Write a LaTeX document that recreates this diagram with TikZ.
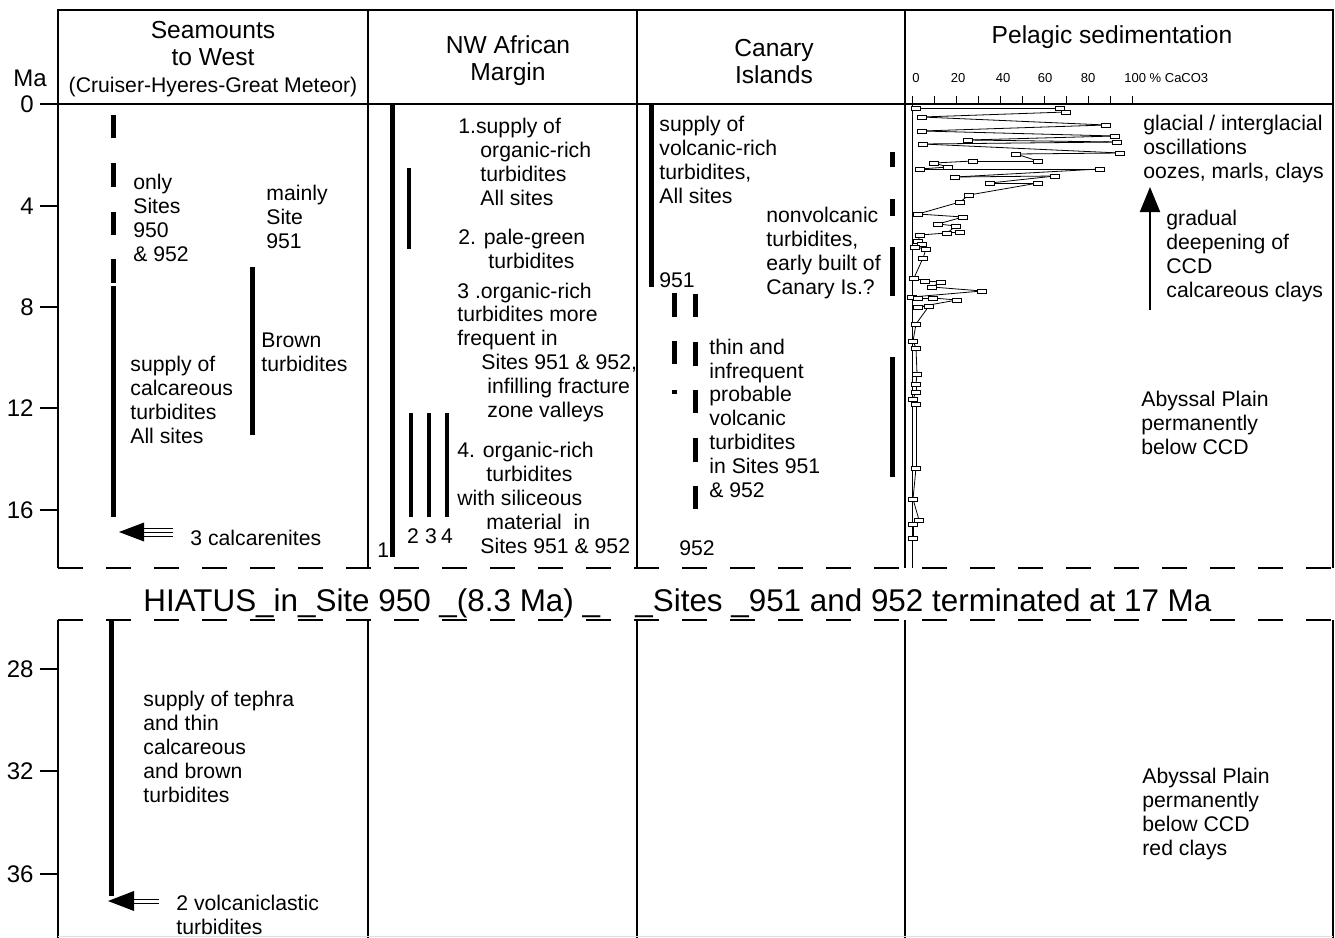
\documentclass[tikz,border=0pt]{standalone}
\usepackage{fontspec}
\setmainfont{Liberation Sans}
\usetikzlibrary{arrows.meta}

\tikzset{
  frame/.style={line width=1pt},
  cut/.style={line width=1pt, dash pattern=on 12.5pt off 11.5pt},
  tick/.style={line width=0.7pt},
  bar/.style={line width=2.5pt},
  slim/.style={line width=2pt},
  hair/.style={line width=0.5pt},
  txt/.style={anchor=base west, align=left, inner sep=0pt, font=\fontsize{10.6}{11.9}\selectfont},
  hdr/.style={anchor=base, align=center, inner sep=0pt, font=\fontsize{12.3}{13.5}\selectfont},
  age/.style={anchor=east, inner sep=0pt, font=\fontsize{12}{14}\selectfont},
  pct/.style={anchor=base, inner sep=0pt, font=\fontsize{6.5}{8}\selectfont},
  big/.style={anchor=base west, inner sep=0pt, font=\fontsize{15.7}{18}\selectfont},
  sample/.style={draw, line width=0.4pt, fill=white},
  datalink/.style={line width=0.4pt}
}

% CaCO3 samples (x = percent axis, y = age), pixel units
\def\carb{916/108,1060/108,1066/112,922/117,1106/125,922/131,1115/136,968/140,1117/142,923/144,1120/153,1016/154,1038/161,973/161,934/163,948/167,920/169,1100/169,955/177,1055/176,990/183,1038/183,969/195,960/202,918/214,963/217,938/224,956/226,947/233,960/232,920/235,918/241,922/244,915/247,926/249,923/258,914/278,925/281,941/282,932/287,982/291,912/297,918/298,933/298,957/300,918/307,929/306,916/324,913/341,916/348,917/374,916/384,916/392,913/399,916/404,916/468,913/499,919/520,913/524,913/538}

\begin{document}
\begin{tikzpicture}[x=0.5pt,y=-0.5pt]
\fill[white] (0,0) rectangle (1335,938);
\useasboundingbox (0,0) rectangle (1335,938);

% frame
\draw[frame] (58,568) -- (58,10) -- (1333,10) -- (1333,568);
\draw[frame] (58,104) -- (1333,104);
\foreach \x in {368,637,905} \draw[frame] (\x,10) -- (\x,568);
\draw[cut] (58,568) -- (1333,568);
\draw[cut] (58,620) -- (1333,620);
\foreach \x in {58,368,637,905,1333} \draw[frame] (\x,620) -- (\x,938);
\draw[gray!25, line width=0.5pt] (58,936) -- (1333,936);

% age axis
\node[anchor=base west, inner sep=0pt, font=\fontsize{12}{14}\selectfont] (ma) at (13,86) {Ma};
\foreach \t/\y in {0/104,4/206,8/307,12/408,16/510,28/669,32/771,36/874}{
  \draw[tick] (40,\y) -- (58,\y);
  \node[age] (t\t) at (34,\y) {\t};
}

% headers (base = last line)
\node[hdr] (seamt) at (213,92) {Seamounts\\to West\\{\fontsize{10.6}{13.5}\selectfont(Cruiser-Hyeres-Great Meteor)}};
\node[hdr] (nwaf) at (508,80) {NW African\\Margin};
\node[hdr] (canh) at (774,83) {Canary\\Islands};
\node[hdr] (pelh) at (1112,43) {Pelagic sedimentation};
\foreach \p/\x in {0/916,20/958,40/1003,60/1045,80/1088} \node[pct] (p\p) at (\x,82) {\p};
\node[pct, anchor=base west] (p100) at (1124,82) {100 \% CaCO3};

% seamounts column
\foreach \a/\b in {115/138,163/187,212/235,259/283,286/517} \draw[bar] (113,\a) -- (113,\b);
\draw[bar] (252,267) -- (252,435);
\node[txt] (only) at (133,261) {only\\Sites\\950\\\& 952};
\node[txt] (mainly) at (266,248) {mainly\\Site\\951};
\node[txt] (brown) at (261,371) {Brown\\turbidites};
\node[txt] (calcs) at (130,443) {supply of\\calcareous\\turbidites\\All sites};
\node[txt] (calc) at (190,545) {3 calcarenites};
\coordinate (calctip) at (119,532);
\fill (calctip) -- ++(25,-9.5) -- ++(0,19) -- cycle;
\foreach \d in {528,532,536} \draw[hair] (144,\d) -- (173,\d);

% NW African margin column
\draw[bar] (392,104) -- (392,557);
\draw[slim] (409,168) -- (409,249);
\foreach \x in {411,429,447} \draw[slim] (\x,413) -- (\x,517);
\node[txt] (one) at (377,557) {1};
\foreach \n/\x in {2/413,3/431,4/447} \node[txt, anchor=base] (site\n) at (\x,543) {\n};
\node[txt] (nwa) at (458,205) {1.supply of\\\hspace*{11pt}organic-rich\\\hspace*{11pt}turbidites\\\hspace*{11pt}All sites};
\node[txt] (nwb) at (458,268) {2. pale-green\\\hspace*{15pt}turbidites};
\node[txt] (nwc) at (457,417) {3 .organic-rich\\turbidites more\\frequent in\\\hspace*{12pt}Sites 951 \& 952,\\\hspace*{15pt}infilling fracture\\\hspace*{15pt}zone valleys};
\node[txt] (nwd) at (457,553) {4. organic-rich\\\hspace*{14.5pt}turbidites\\with siliceous\\\hspace*{14.5pt}material\ \ in\\\hspace*{11.5pt}Sites 951 \& 952};

% Canary Islands column
\draw[bar] (651,104) -- (651,287);
\foreach \a/\b in {152/167,199/216,247/296,357/477} \draw[bar] (892,\a) -- (892,\b);
\foreach \a/\b in {293/317,341/364,390/394} \draw[bar] (674,\a) -- (674,\b);
\foreach \a/\b in {294/317,342/366,390/413,438/462,486/509} \draw[bar] (695,\a) -- (695,\b);
\node[txt] (volc) at (659,203) {supply of\\volcanic-rich\\turbidites,\\All sites};
\node[txt] (s951) at (659,287) {951};
\node[txt] (nonv) at (766,294) {nonvolcanic\\turbidites,\\early built of\\Canary Is.?};
\node[txt] (thin) at (709,497) {thin and\\infrequent\\probable\\volcanic\\turbidites\\in Sites 951\\\& 952};
\node[txt] (s952) at (679,555) {952};

% pelagic column
\draw[hair] (912,104) -- (912,568);
\foreach \k in {0,...,10} \draw[hair] (912+22*\k,104) -- (912+22*\k,96);
\foreach \x/\y [remember=\x as \lx (initially 916), remember=\y as \ly (initially 108)] in \carb
  \draw[datalink] (\lx,\ly) -- (\x,\y);
\foreach \x/\y in \carb \draw[sample] (\x-4.5,\y-2) rectangle (\x+4.5,\y+2);
\node[txt] (glac) at (1143,178) {glacial / interglacial\\oscillations\\oozes, marls, clays};
\node[txt] (grad) at (1166,297) {gradual\\deepening of\\CCD\\calcareous clays};
\coordinate (ccdlow) at (1150,310);
\coordinate (ccdtop) at (1150,187);
\draw[frame, -{Triangle[length=12.5pt,width=10pt]}] (ccdlow) -- (ccdtop);
\node[txt] (abys) at (1141,454) {Abyssal Plain\\permanently\\below CCD};

% break
\node[big] (hiatus) at (143,611) {HIATUS\_in\_Site 950 \_(8.3 Ma) \_};
\node[big] (term) at (635,611) {\_Sites \_951 and 952 terminated at 17 Ma};

% lower part
\draw[bar] (111,620) -- (111,896);
\node[txt] (teph) at (143,802) {supply of tephra\\and thin\\calcareous\\and brown\\turbidites};
\node[txt] (vcl) at (176,934) {2 volcaniclastic\\turbidites};
\coordinate (volctip) at (108,901);
\fill (volctip) -- ++(26,-10) -- ++(0,20) -- cycle;
\foreach \d in {899,903} \draw[hair] (134,\d) -- (159,\d);
\node[txt] (red) at (1142,855) {Abyssal Plain\\permanently\\below CCD\\red clays};
\end{tikzpicture}
\end{document}
